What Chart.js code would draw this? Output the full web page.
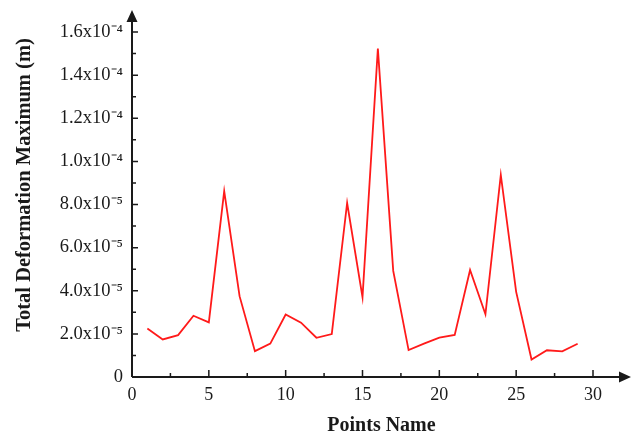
<!DOCTYPE html>
<html>
<head>
<meta charset="utf-8">
<title>Total Deformation Maximum</title>
<script src="https://cdn.jsdelivr.net/npm/chart.js@4"></script>
<style>
  body { margin: 0; background: #fff; }
  #box { width: 636px; height: 435px; }
</style>
</head>
<body>
<div id="box"><canvas id="chart" width="636" height="435"></canvas></div>
<script>
// point numbers and the max deformation (m)
const POINTS = [1, 2, 3, 4, 5, 6, 7, 8, 9, 10, 11, 12, 13, 14, 15,
                16, 17, 18, 19, 20, 21, 22, 23, 24, 25, 26, 27, 28, 29];
const DEFORMATION = [
  2.25e-5, 1.74e-5, 1.94e-5, 2.84e-5, 2.53e-5, 8.62e-5, 3.75e-5, 1.20e-5, 1.55e-5, 2.90e-5,
  2.52e-5, 1.82e-5, 1.99e-5, 8.07e-5, 3.70e-5, 1.523e-4, 4.92e-5, 1.25e-5, 1.55e-5, 1.83e-5,
  1.95e-5, 4.96e-5, 2.91e-5, 9.37e-5, 3.95e-5, 0.81e-5, 1.24e-5, 1.19e-5, 1.54e-5,
];
const X_TICKS = [0, 5, 10, 15, 20, 25, 30];
const Y_TICKS = [0, 2e-5, 4e-5, 6e-5, 8e-5, 1.0e-4, 1.2e-4, 1.4e-4, 1.6e-4];
const X_TITLE = 'Points Name';
const Y_TITLE = 'Total Deformation Maximum (m)';

const SUP = { '-': '\u207B', '0': '\u2070', '1': '\u00B9', '2': '\u00B2', '3': '\u00B3',
              '4': '\u2074', '5': '\u2075', '6': '\u2076', '7': '\u2077', '8': '\u2078', '9': '\u2079' };
const sci = (v) => {
  if (v === 0) return '0';
  const e = Math.floor(Math.log10(v) + 1e-9);
  const m = (v / Math.pow(10, e)).toFixed(1);
  return m + 'x10' + String(e).split('').map(c => SUP[c]).join('');
};

const INK = '#1a1a1a';
const SERIF = "'Liberation Serif', 'Times New Roman', serif";

// axes drawn by hand: arrows, inward ticks, titles centred on the full axis
const axesPlugin = {
  id: 'axes',
  afterDraw(chart) {
    const { ctx, scales: { x, y } } = chart;
    const x0 = x.getPixelForValue(0), y0 = y.getPixelForValue(0);
    const xEnd = 631, yEnd = 10;
    ctx.save();
    ctx.strokeStyle = INK; ctx.fillStyle = INK; ctx.lineWidth = 2;
    ctx.beginPath();
    ctx.moveTo(x0, y0); ctx.lineTo(xEnd - 8, y0);
    ctx.moveTo(x0, y0); ctx.lineTo(x0, yEnd + 8);
    ctx.stroke();
    // arrow heads
    ctx.beginPath();
    ctx.moveTo(xEnd, y0); ctx.lineTo(xEnd - 12, y0 - 5.5); ctx.lineTo(xEnd - 12, y0 + 5.5); ctx.closePath();
    ctx.moveTo(x0, yEnd); ctx.lineTo(x0 - 5.5, yEnd + 12); ctx.lineTo(x0 + 5.5, yEnd + 12); ctx.closePath();
    ctx.fill();
    // ticks (inward), majors + minors
    ctx.lineWidth = 1.5;
    ctx.beginPath();
    for (let i = 1; i < X_TICKS.length; i++) {
      const px = x.getPixelForValue(X_TICKS[i]);
      ctx.moveTo(px, y0); ctx.lineTo(px, y0 - 7);
      const pm = x.getPixelForValue((X_TICKS[i] + X_TICKS[i - 1]) / 2);
      ctx.moveTo(pm, y0); ctx.lineTo(pm, y0 - 4);
    }
    for (let i = 1; i < Y_TICKS.length; i++) {
      const py = y.getPixelForValue(Y_TICKS[i]);
      ctx.moveTo(x0, py); ctx.lineTo(x0 + 6, py);
      const pm = y.getPixelForValue((Y_TICKS[i] + Y_TICKS[i - 1]) / 2);
      ctx.moveTo(x0, pm); ctx.lineTo(x0 + 4, pm);
    }
    ctx.stroke();
    // titles
    ctx.textAlign = 'center'; ctx.textBaseline = 'middle';
    ctx.font = 'bold 20px ' + SERIF;
    ctx.fillText(X_TITLE, (x0 + xEnd) / 2, 426);
    ctx.translate(25, 185);
    ctx.rotate(-Math.PI / 2);
    ctx.font = 'bold 20.5px ' + SERIF;
    ctx.fillText(Y_TITLE, 0, 0);
    ctx.restore();
  },
};

new Chart(document.getElementById('chart'), {
  type: 'line',
  data: {
    datasets: [{
      data: POINTS.map((p, i) => ({ x: p, y: DEFORMATION[i] })),
      borderColor: '#ff1a1a', borderWidth: 1.8,
      pointRadius: 0, tension: 0, fill: false,
    }],
  },
  options: {
    responsive: false, animation: false,
    layout: { padding: { top: 32, right: 43, left: 0, bottom: 0 } },
    plugins: { legend: { display: false }, tooltip: { enabled: false } },
    scales: {
      x: {
        type: 'linear', min: 0, max: 30,
        afterBuildTicks: (s) => { s.ticks = X_TICKS.map(v => ({ value: v })); },
        afterFit: (s) => { s.height = 58; },
        grid: { display: false, drawTicks: false }, border: { display: false },
        ticks: { color: INK, padding: 7, maxRotation: 0, font: { family: SERIF, size: 18 } },
      },
      y: {
        type: 'linear', min: 0, max: 1.6e-4,
        afterBuildTicks: (s) => { s.ticks = Y_TICKS.map(v => ({ value: v })); },
        afterFit: (s) => { s.width = 132; },
        grid: { display: false, drawTicks: false }, border: { display: false },
        ticks: { color: INK, padding: 9, callback: (v) => sci(v), font: { family: SERIF, size: 18.5 } },
      },
    },
  },
  plugins: [axesPlugin],
});
</script>
</body>
</html>
